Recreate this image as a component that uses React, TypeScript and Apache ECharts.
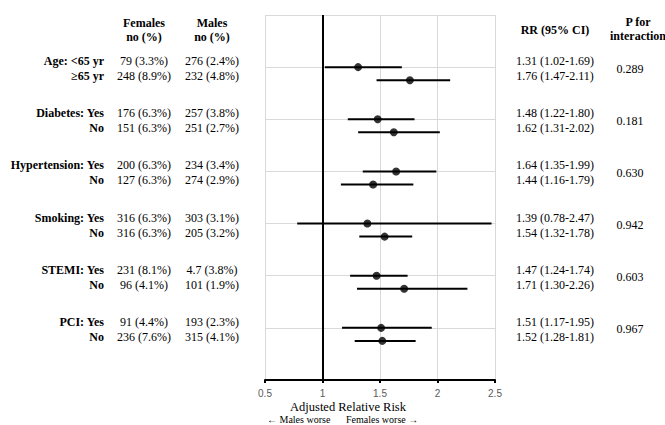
import React, { useEffect, useRef } from "react";
import * as echarts from "echarts";

const rowLabels = [
  "Age: <65 yr", "≥65 yr",
  "Diabetes: Yes", "No",
  "Hypertension: Yes", "No",
  "Smoking: Yes", "No",
  "STEMI: Yes", "No",
  "PCI: Yes", "No",
];
const femalesText = [
  "79 (3.3%)", "248 (8.9%)",
  "176 (6.3%)", "151 (6.3%)",
  "200 (6.3%)", "127 (6.3%)",
  "316 (6.3%)", "316 (6.3%)",
  "231 (8.1%)", "96 (4.1%)",
  "91 (4.4%)", "236 (7.6%)",
];
const malesText = [
  "276 (2.4%)", "232 (4.8%)",
  "257 (3.8%)", "251 (2.7%)",
  "234 (3.4%)", "274 (2.9%)",
  "303 (3.1%)", "205 (3.2%)",
  "4.7 (3.8%)", "101 (1.9%)",
  "193 (2.3%)", "315 (4.1%)",
];
const rr = [1.31, 1.76, 1.48, 1.62, 1.64, 1.44, 1.39, 1.54, 1.47, 1.71, 1.51, 1.52];
const lo = [1.02, 1.47, 1.22, 1.31, 1.35, 1.16, 0.78, 1.32, 1.24, 1.30, 1.17, 1.28];
const hi = [1.69, 2.11, 1.80, 2.02, 1.99, 1.79, 2.47, 1.78, 1.74, 2.26, 1.95, 1.81];
const pInteraction = ["0.289", "0.181", "0.630", "0.942", "0.603", "0.967"];
// y position (in axis units) for each row: group g -> g+1 (first row), g+1.25 (second row)
const rowPos = [1, 1.25, 2, 2.25, 3, 3.25, 4, 4.25, 5, 5.25, 6, 6.25];
const xTicks = { min: 0.5, max: 2.5, interval: 0.5 };

const GRID_TOP = 15;
const GRID_BOTTOM_PX = 380;
const Y_MAX = 7;
const unitPx = (GRID_BOTTOM_PX - GRID_TOP) / Y_MAX;

const SERIF = "Liberation Serif";

function fmtRR(i: number) {
  return `${rr[i].toFixed(2)} (${lo[i].toFixed(2)}-${hi[i].toFixed(2)})`;
}

export default function App() {
  const ref = useRef<HTMLDivElement>(null);
  useEffect(() => {
    if (!ref.current) return;
    const chart = echarts.init(ref.current, undefined, { renderer: "svg" });

    const texts: any[] = [];
    const t = (text: string, x: number, y: number, align: string, bold: boolean, size = 12, fill = "#000") =>
      texts.push({
        type: "text",
        x,
        y,
        silent: true,
        style: {
          text,
          fontFamily: SERIF,
          fontSize: size,
          fontWeight: bold ? "bold" : "normal",
          fill,
          align,
          verticalAlign: "middle",
        },
      });

    // headers
    t("Females", 144, 23, "center", true);
    t("no (%)", 144, 37, "center", true);
    t("Males", 212, 23, "center", true);
    t("no (%)", 212, 37, "center", true);
    t("RR (95% CI)", 555, 30, "center", true);
    t("P for", 638, 22, "center", true);
    t("interaction", 638, 36, "center", true);

    rowLabels.forEach((lab, i) => {
      const g = Math.floor(i / 2);
      const yy = GRID_TOP + (g + 1) * unitPx - 6 + (i % 2) * 15;
      t(lab, 104, yy, "right", true);
      t(femalesText[i], 144, yy, "center", false);
      t(malesText[i], 212, yy, "center", false);
      t(fmtRR(i), 555, yy, "center", false);
    });
    pInteraction.forEach((p, g) => {
      const yy = GRID_TOP + (g + 1) * unitPx - 6 + 7.5;
      t(p, 630, yy, "center", false);
    });

    t("Adjusted Relative Risk", 348, 407, "center", false, 12.5);
    t("← Males worse", 267, 419, "left", false, 10);
    t("Females worse →", 346, 419, "left", false, 10);

    chart.setOption({
      animation: false,
      backgroundColor: "#fff",
      grid: { left: 265, right: 170, top: GRID_TOP, bottom: 425 - GRID_BOTTOM_PX },
      xAxis: {
        type: "value",
        min: xTicks.min,
        max: xTicks.max,
        interval: xTicks.interval,
        axisLine: { show: true, onZero: false, lineStyle: { color: "#000", width: 2 } },
        axisTick: { show: true, length: 3, lineStyle: { color: "#000", width: 2 } },
        axisLabel: {
          color: "#595959",
          fontSize: 10,
          fontFamily: "Liberation Sans",
          margin: 8,
          formatter: (v: number) => String(v),
        },
        splitLine: { show: true, lineStyle: { color: "#d9d9d9", width: 1 } },
      },
      yAxis: {
        type: "value",
        min: 0,
        max: Y_MAX,
        interval: 1,
        inverse: true,
        axisLine: { show: false },
        axisTick: { show: false },
        axisLabel: { show: false },
        splitLine: { show: true, lineStyle: { color: "#d9d9d9", width: 1 } },
      },
      series: [
        {
          type: "custom",
          silent: true,
          data: rowPos.map((y, i) => [lo[i], hi[i], y]),
          encode: { x: [0, 1], y: 2 },
          renderItem: (params: any, api: any) => {
            const p1 = api.coord([api.value(0), api.value(2)]);
            const p2 = api.coord([api.value(1), api.value(2)]);
            return {
              type: "line",
              shape: { x1: p1[0], y1: p1[1], x2: p2[0], y2: p2[1] },
              style: { stroke: "#000", lineWidth: 2 },
            };
          },
          z: 3,
        },
        {
          type: "scatter",
          silent: true,
          symbol: "circle",
          symbolSize: 8,
          itemStyle: { color: "#000" },
          data: rowPos.map((y, i) => [rr[i], y]),
          z: 4,
          markLine: {
            silent: true,
            symbol: ["none", "none"],
            label: { show: false },
            lineStyle: { color: "#000", width: 2, type: "solid" },
            data: [{ xAxis: 1 }],
          },
        },
      ],
      graphic: texts,
    });
    return () => chart.dispose();
  }, []);
  return (
    <div
      ref={ref}
      style={{ position: "fixed", left: 0, top: 0, width: 665, height: 425 }}
    />
  );
}
